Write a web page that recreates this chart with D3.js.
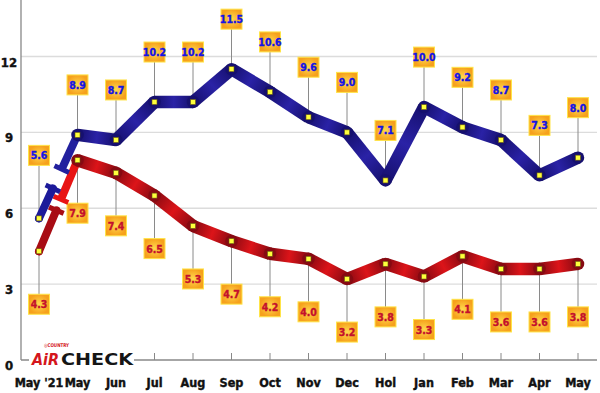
<!DOCTYPE html>
<html>
<head>
<meta charset="utf-8">
<script src="https://cdn.jsdelivr.net/npm/d3@7"></script>
<style>
  body { margin: 0; background: #fff; }
  svg { display: block; }
</style>
</head>
<body>
<svg id="chart"></svg>
<script>
// Chart data ---------------------------------------------------------------
const months = ["May '21", "May", "Jun", "Jul", "Aug", "Sep", "Oct", "Nov", "Dec", "Hol", "Jan", "Feb", "Mar", "Apr", "May"];
const blueValues = [5.6, 8.9, 8.7, 10.2, 10.2, 11.5, 10.6, 9.6, 9.0, 7.1, 10.0, 9.2, 8.7, 7.3, 8.0];
const redValues = [4.3, 7.9, 7.4, 6.5, 5.3, 4.7, 4.2, 4.0, 3.2, 3.8, 3.3, 4.1, 3.6, 3.6, 3.8];
const yTicks = [0, 3, 6, 9, 12];

const width = 600, height = 393;

const svg = d3.select("#chart")
    .attr("width", width)
    .attr("height", height)
    .style("font-family", "'DejaVu Sans Condensed', 'DejaVu Sans', sans-serif");

const defs = svg.append("defs");

// Scales (x uses indexes because "May" appears twice)
const x = d3.scalePoint()
    .domain(d3.range(months.length))
    .range([39, 578]);

const y = d3.scaleLinear()
    .domain([0, 12])
    .range([360, 56.5]);

// Gridlines
svg.append("g")
    .selectAll("line")
    .data(yTicks.filter(d => d > 0))
    .enter().append("line")
    .attr("x1", 21).attr("x2", 597)
    .attr("y1", d => y(d)).attr("y2", d => y(d))
    .attr("stroke", "#dcdcdc")
    .attr("stroke-width", 1.3);

// Axis lines
svg.append("line")
    .attr("x1", 21).attr("x2", 21)
    .attr("y1", 0).attr("y2", y(0))
    .attr("stroke", "#888").attr("stroke-width", 1.3);

svg.append("line")
    .attr("x1", 21).attr("x2", 597)
    .attr("y1", y(0)).attr("y2", y(0))
    .attr("stroke", "#888").attr("stroke-width", 1.3);

// Small x ticks above the axis
svg.append("g")
    .selectAll("line")
    .data(d3.range(months.length))
    .enter().append("line")
    .attr("x1", d => x(d)).attr("x2", d => x(d))
    .attr("y1", y(0) - 7).attr("y2", y(0))
    .attr("stroke", "#888").attr("stroke-width", 1);

// Y labels
svg.append("g")
    .selectAll("text")
    .data(yTicks)
    .enter().append("text")
    .attr("x", 9)
    .attr("y", d => y(d) + 10)
    .attr("text-anchor", "middle")
    .style("font-size", "13px")
    .style("font-weight", "bold")
    .attr("fill", "#111")
    .attr("stroke", "#111").attr("stroke-width", 0.4)
    .text(d => d);

// X labels
svg.append("g")
    .selectAll("text")
    .data(months)
    .enter().append("text")
    .attr("x", (d, i) => x(i))
    .attr("y", 387)
    .attr("text-anchor", "middle")
    .style("font-size", "12.5px")
    .style("font-weight", "bold")
    .attr("fill", "#111")
    .attr("stroke", "#111").attr("stroke-width", 0.4)
    .text(d => d);

// Label box gradient
const boxGrad = defs.append("radialGradient").attr("id", "boxGrad");
boxGrad.append("stop").attr("offset", "0%").attr("stop-color", "#ffd94e");
boxGrad.append("stop").attr("offset", "100%").attr("stop-color", "#f6a11c");

// Leader lines + value boxes
function drawLabels(values, textColor, above) {
    const g = svg.append("g");
    values.forEach((v, i) => {
        const px = x(i), py = y(v);
        let off = above ? 50 : 53;
        if (above && i === 0) off = 63;
        const cy = above ? py - off : py + off;
        g.append("line")
            .attr("x1", px).attr("x2", px)
            .attr("y1", py).attr("y2", cy)
            .attr("stroke", "#8a8a8a").attr("stroke-width", 1);
        g.append("rect")
            .attr("x", px - 10.5).attr("y", cy - 10)
            .attr("width", 21).attr("height", 20)
            .attr("fill", "url(#boxGrad)")
            .attr("stroke", "#ffe448").attr("stroke-width", 1);
        g.append("text")
            .attr("x", px).attr("y", cy + 4)
            .attr("text-anchor", "middle")
            .style("font-size", "10.5px")
            .style("font-weight", "bold")
            .attr("fill", textColor)
            .attr("stroke", textColor).attr("stroke-width", 0.35)
            .text(v.toFixed(1));
    });
}

// Thick series line with shaded segments
function drawSeries(values, id, dark, bright, breakDark, breakBright, gapStart, gapEnd) {
    const g = svg.append("g");

    // broken first segment (May '21 -> May)
    const x0 = x(0), y0 = y(values[0]), x1 = x(1), y1 = y(values[1]);
    const dx = x1 - x0, dy = y1 - y0;
    const len = Math.hypot(dx, dy);
    const nx = -dy / len, ny = dx / len; // perpendicular
    const pA = [x0 + dx * gapStart, y0 + dy * gapStart];
    const pB = [x0 + dx * gapEnd, y0 + dy * gapEnd];
    g.append("line")
        .attr("x1", x0).attr("y1", y0).attr("x2", pA[0]).attr("y2", pA[1])
        .attr("stroke", breakDark).attr("stroke-width", 8).attr("stroke-linecap", "round");
    g.append("line")
        .attr("x1", pB[0]).attr("y1", pB[1]).attr("x2", x1).attr("y2", y1)
        .attr("stroke", breakBright).attr("stroke-width", 8);
    [pA, pB].forEach((p, k) => {
        g.append("line")
            .attr("x1", p[0] - nx * 8).attr("y1", p[1] - ny * 8)
            .attr("x2", p[0] + nx * 8).attr("y2", p[1] + ny * 8)
            .attr("stroke", k === 0 ? breakDark : breakBright)
            .attr("stroke-width", 5);
    });

    // main thick line, one gradient per segment
    for (let i = 1; i < values.length - 1; i++) {
        const ax = x(i), ay = y(values[i]), bx = x(i + 1), by = y(values[i + 1]);
        const gid = id + "seg" + i;
        const lg = defs.append("linearGradient")
            .attr("id", gid)
            .attr("gradientUnits", "userSpaceOnUse")
            .attr("x1", ax).attr("y1", ay).attr("x2", bx).attr("y2", by);
        lg.append("stop").attr("offset", "0%").attr("stop-color", dark);
        lg.append("stop").attr("offset", "50%").attr("stop-color", bright);
        lg.append("stop").attr("offset", "100%").attr("stop-color", dark);
        g.append("line")
            .attr("x1", ax).attr("y1", ay).attr("x2", bx).attr("y2", by)
            .attr("stroke", `url(#${gid})`)
            .attr("stroke-width", 12.5);
    }
    // round joints
    g.selectAll("circle")
        .data(values.slice(1))
        .enter().append("circle")
        .attr("cx", (d, i) => x(i + 1))
        .attr("cy", d => y(d))
        .attr("r", 6.25)
        .attr("fill", dark);
    g.append("circle")
        .attr("cx", x0).attr("cy", y0).attr("r", 4)
        .attr("fill", breakDark);

    // yellow markers
    g.selectAll("rect")
        .data(values)
        .enter().append("rect")
        .attr("x", (d, i) => x(i) - 2.5)
        .attr("y", d => y(d) - 2.5)
        .attr("width", 5).attr("height", 5)
        .attr("fill", "#ffff3c")
        .attr("stroke", "#6a5a10").attr("stroke-width", 0.6);
}

drawLabels(redValues, "#c4102c", false);
drawLabels(blueValues, "#1414e6", true);
drawSeries(redValues, "red", "#860a12", "#dc1419", "#a80c14", "#e81414", 0.45, 0.57);
drawSeries(blueValues, "blue", "#16106e", "#2a22a6", "#1c1a9a", "#22209e", 0.36, 0.59);

// Logo
const logo = svg.append("g");
logo.append("rect")
    .attr("x", 29).attr("y", 349)
    .attr("width", 105).attr("height", 17)
    .attr("fill", "#fff");
logo.append("text")
    .attr("x", 32).attr("y", 365)
    .attr("textLength", 27).attr("lengthAdjust", "spacingAndGlyphs")
    .style("font-size", "16px").style("font-weight", "bold").style("font-style", "italic")
    .style("font-family", "'DejaVu Sans', sans-serif")
    .attr("fill", "#d4161c")
    .text("AiR");
logo.append("text")
    .attr("x", 61).attr("y", 365)
    .attr("textLength", 72).attr("lengthAdjust", "spacingAndGlyphs")
    .style("font-size", "16px").style("font-weight", "bold")
    .style("font-family", "'DejaVu Sans', sans-serif")
    .attr("fill", "#151515")
    .text("CHECK");
logo.append("text")
    .attr("x", 44).attr("y", 347)
    .attr("textLength", 25).attr("lengthAdjust", "spacingAndGlyphs")
    .style("font-size", "5px").style("font-weight", "bold")
    .attr("fill", "#d4161c")
    .text("◎COUNTRY");
</script>
</body>
</html>
